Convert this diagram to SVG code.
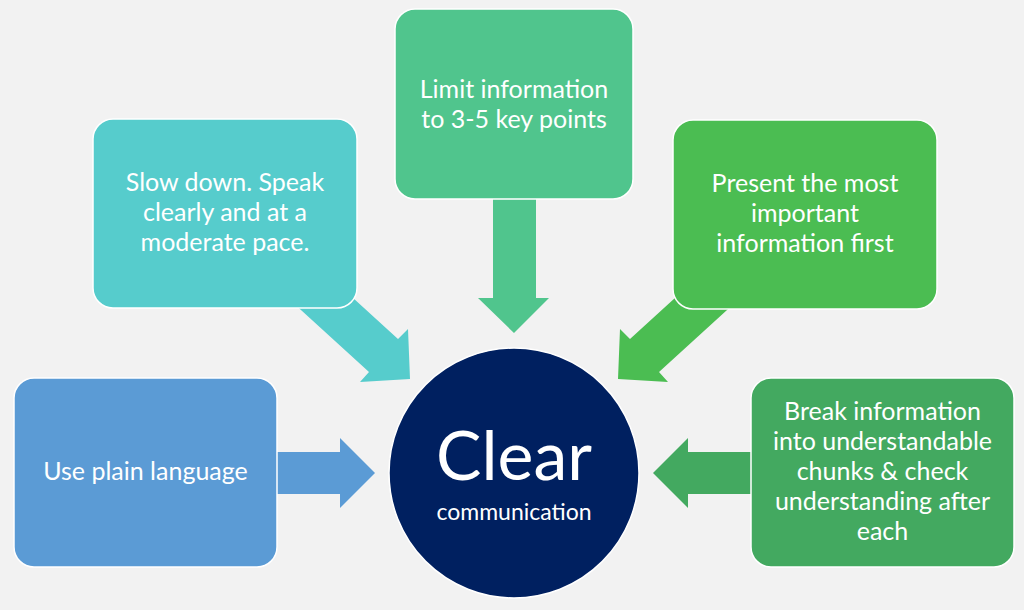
<svg xmlns="http://www.w3.org/2000/svg" width="1024" height="610" viewBox="0 0 1024 610">
<style>
.box{stroke:#FFFFFF;stroke-width:1.5}
.t{font-family:Lato,"Open Sans","Liberation Sans",sans-serif;font-size:25px;fill:#FFFFFF;text-anchor:middle}
</style>
<rect x="0" y="0" width="1024" height="610" fill="#F2F2F2"/>
<g id="connectors">
<polygon fill="#56CCCC" points="290,300 369,372 360,382 410,379 408,329 398,339 319.6,267.4"/>
<polygon fill="#50C58D" points="493,195 536,195 536,298 549,298 514,333 478,298 493,298"/>
<polygon fill="#4BBD52" points="738,300 659,372 668,382 618,379 620,329 630,339 708.4,267.4"/>
<polygon fill="#5B9BD5" points="270,452 340,452 340,438 375,473 340,508 340,494 270,494"/>
<polygon fill="#43A960" points="758,452 688,452 688,438 653,473 688,508 688,494 758,494"/>
</g>
<g id="node-slow">
<rect class="box" x="93" y="119" width="264" height="189" rx="20" fill="#56CCCC"/>
<text class="t" x="225" y="191">Slow down. Speak</text>
<text class="t" x="225" y="221">clearly and at a</text>
<text class="t" x="225" y="251">moderate pace.</text>
</g>
<g id="node-limit">
<rect class="box" x="395" y="9" width="238" height="190" rx="20" fill="#50C58D"/>
<text class="t" x="514" y="98">Limit information</text>
<text class="t" x="514" y="128">to 3-5 key points</text>
</g>
<g id="node-present">
<rect class="box" x="673" y="120" width="264" height="189" rx="20" fill="#4BBD52"/>
<text class="t" x="805" y="192">Present the most</text>
<text class="t" x="805" y="222">important</text>
<text class="t" x="805" y="252">information first</text>
</g>
<g id="node-plain">
<rect class="box" x="14" y="378" width="263" height="189" rx="20" fill="#5B9BD5"/>
<text class="t" x="145.5" y="480">Use plain language</text>
</g>
<g id="node-break">
<rect class="box" x="751" y="378" width="263" height="189" rx="20" fill="#43A960"/>
<text class="t" x="882.5" y="420">Break information</text>
<text class="t" x="882.5" y="450">into understandable</text>
<text class="t" x="882.5" y="480">chunks &amp; check</text>
<text class="t" x="882.5" y="510">understanding after</text>
<text class="t" x="882.5" y="540">each</text>
</g>
<g id="node-center">
<circle cx="514" cy="473" r="125" fill="#002060" stroke="#FFFFFF" stroke-width="1.5"/>
<text class="t" x="514" y="480" style="font-size:68px">Clear</text>
<text class="t" x="514" y="520" style="font-size:23px">communication</text>
</g>
</svg>
